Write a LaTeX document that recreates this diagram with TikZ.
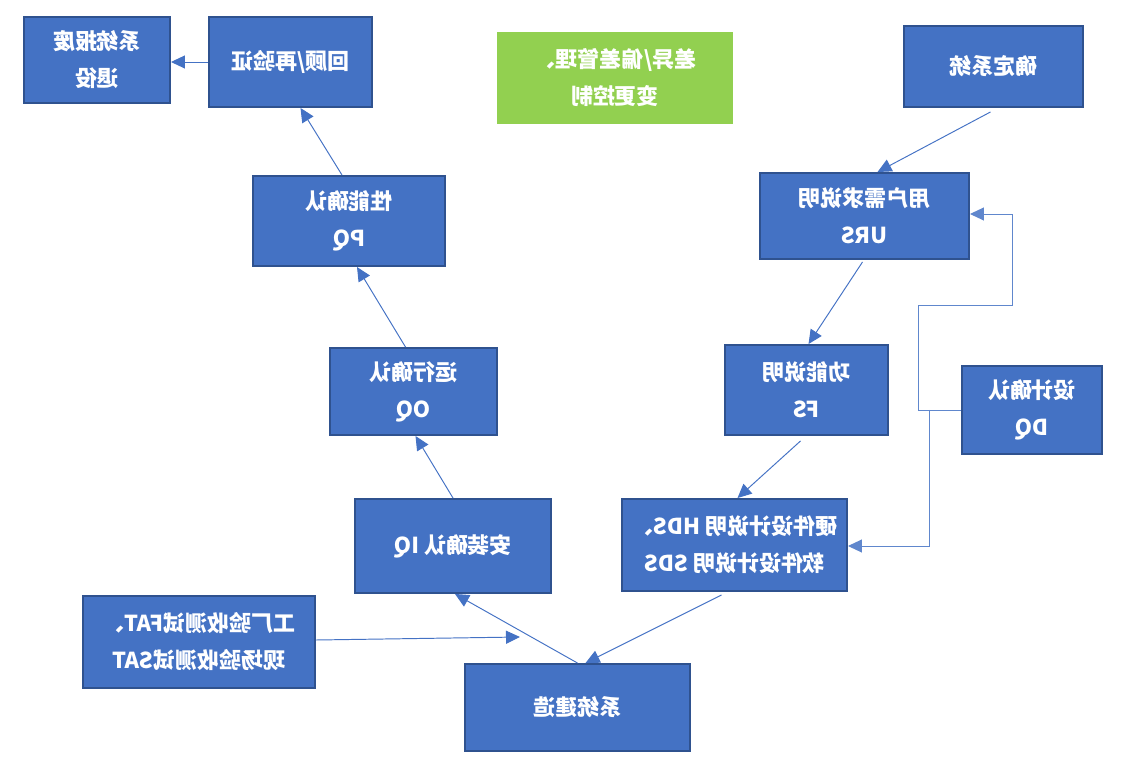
\documentclass[tikz,border=0pt]{standalone}
\usepackage{graphicx}
\usepackage{fontspec}
\usepackage{tikz}
\usetikzlibrary{arrows.meta,positioning,calc}
\newfontfamily\cjk{Noto Sans CJK SC}
\definecolor{bleu}{HTML}{4472C4}
\definecolor{bleuF}{HTML}{2F528F}
\definecolor{vert}{HTML}{92D050}
% the reference prints every label mirrored
\newcommand{\mir}[1]{\scalebox{-1}[1]{#1}}
\tikzset{
  etape/.style={rectangle, draw=bleuF, line width=1.1pt, fill=bleu, text=white,
                align=center, inner sep=0pt, font=\cjk\bfseries\fontsize{12.5}{21}\selectfont},
  note/.style={rectangle, fill=vert, text=white,
               align=center, inner sep=0pt, font=\cjk\bfseries\fontsize{12.5}{21}\selectfont},
  arr/.style={-{Triangle[length=2.8mm,width=2.6mm]}, line width=0.55pt, draw=bleu},
  lien/.style={line width=0.55pt, draw=bleu!85},
}

\begin{document}
\begin{tikzpicture}[x=0.2mm, y=-0.2mm]
        \useasboundingbox (0,0) rectangle (1132,768);
        % left branch
        \node[etape, minimum width=29.2mm, minimum height=17.2mm] (retire) at (97,60)
          {\mir{系统报废}\\\mir{退役}};
        \node[etape, minimum width=32.6mm, minimum height=18mm] (review) at (290.5,62)
          {\mir{回顾/再验证}};
        \node[note, minimum width=47.2mm, minimum height=18.4mm] (change) at (615,78)
          {\mir{差异/偏差管理、}\\\mir{变更控制}};
        \node[etape, minimum width=38.4mm, minimum height=18mm] (pq) at (349,221)
          {\mir{性能确认}\\\mir{PQ}};
        \node[etape, minimum width=33.4mm, minimum height=17.4mm] (oq) at (413.5,391.5)
          {\mir{运行确认}\\\mir{OQ}};
        \node[etape, minimum width=39.2mm, minimum height=18.8mm] (iq) at (453,546)
          {\mir{安装确认 IQ}};
        \node[etape, minimum width=46.4mm, minimum height=18.4mm] (fat) at (199,642)
          {\mir{工厂验收测试FAT、}\\\mir{现场验收测试SAT}};
        \node[etape, minimum width=45mm, minimum height=17.4mm] (build) at (577.5,707.5)
          {\mir{系统建造}};
        % right branch
        \node[etape, minimum width=35.8mm, minimum height=16.2mm] (define) at (993.5,66.5)
          {\mir{确定系统}};
        \node[etape, minimum width=41.8mm, minimum height=17.2mm] (urs) at (864.5,216)
          {\mir{用户需求说明}\\\mir{URS}};
        \node[etape, minimum width=32.6mm, minimum height=18mm] (fs) at (806.5,390)
          {\mir{功能说明}\\\mir{FS}};
        \node[etape, minimum width=28mm, minimum height=17.6mm] (dq) at (1032,410)
          {\mir{设计确认}\\\mir{DQ}};
        \node[etape, minimum width=45mm, minimum height=18.4mm] (hds) at (734.5,545)
          {\mir{硬件设计说明 HDS、}\\\mir{软件设计说明 SDS}};
        \coordinate (fatend) at (520,637);

        \draw[arr] (define.south) ++(-3,4) -- ($(urs.north)+(13,0)$);
        \draw[arr] ($(urs.south)+(-2,2)$) -- ($(fs.north)+(2,0)$);
        \draw[arr] ($(fs.south)+(-6,5)$) -- ($(hds.north)+(3,0)$);
        \draw[arr] ($(hds.south)+(-13,3)$) -- ($(build.north)+(8,0)$);
        \draw[arr] (build.north) -- ($(iq.south)+(2,0)$);
        \draw[arr] (iq.north) -- ($(oq.south)+(2,0)$);
        \draw[arr] ($(oq.north)+(-8,0)$) -- ($(pq.south)+(8,0)$);
        \draw[arr] ($(pq.north)+(-7,0)$) -- ($(review.south)+(10,0)$);
        \draw[arr] (review.west) -- (review.west -| retire.east);
        \draw[arr] (fat.east) ++(0,-2) -- (fatend);
        % design review loops
        \draw[lien, -{Triangle[length=2.8mm,width=2.6mm]}] (dq.west) -- (918,410) -- (918,305)
          -- (1012,305) -- (1012,214) -- (urs.east |- 0,214);
        \draw[lien, -{Triangle[length=2.8mm,width=2.6mm]}] (929,410) -- (929,546) -- (hds.east |- 0,546);
      \end{tikzpicture}
\end{document}
